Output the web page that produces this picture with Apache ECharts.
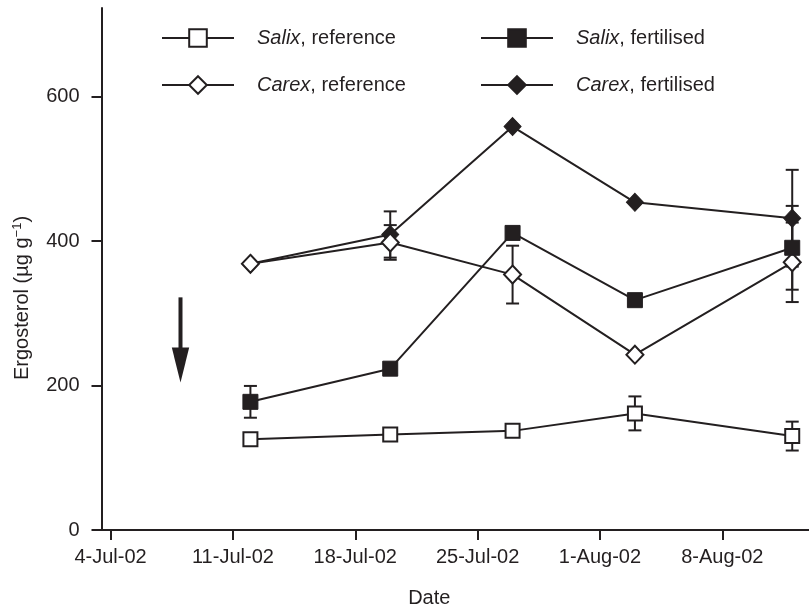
<!DOCTYPE html>
<html>
<head>
<meta charset="utf-8">
<script src="https://cdn.jsdelivr.net/npm/echarts@6/dist/echarts.min.js"></script>
<style>
  html, body { margin: 0; padding: 0; background: #fff; }
  #chart { width: 809px; height: 613px; }
</style>
</head>
<body>
<div id="chart"></div>
<script>
// Sampling dates and ergosterol content (µg g-1) per treatment
const sampleDates = ['2002-07-12', '2002-07-20', '2002-07-27', '2002-08-03', '2002-08-12'];

const salixReference  = [125.7, 132.2, 137.2, 161.4, 130.0];
const salixFertilised = [177.4, 223.3, 411.2, 318.1, 390.6];
const carexReference  = [368.4, 398.0, 353.5, 242.7, 370.5];
const carexFertilised = [368.4, 409.0, 558.4, 453.5, 431.5];

// Standard errors (null where no bar is drawn)
const salixReferenceErr  = [null, null, null, 23.5, 20];
const salixFertilisedErr = [22, null, null, null, 58];
const carexReferenceErr  = [null, 24, 40, null, 55];
const carexFertilisedErr = [null, 32, null, null, 67];

// Axis ticks
const tickDates  = ['2002-07-04', '2002-07-11', '2002-07-18', '2002-07-25', '2002-08-01', '2002-08-08'];
const tickLabels = ['4-Jul-02', '11-Jul-02', '18-Jul-02', '25-Jul-02', '1-Aug-02', '8-Aug-02'];
const yTicks = [0, 200, 400, 600];

// Fertilisation date, marked with an arrow
const arrowDate = '2002-07-08';
const arrowFrom = 322;
const arrowTo = 204;

const INK = '#231f20';
const FONT = '"Liberation Sans", Arial, Helvetica, sans-serif';

function dayOf(s) {
  const [y, m, d] = s.split('-').map(Number);
  return (Date.UTC(y, m - 1, d) - Date.UTC(2002, 6, 4)) / 86400000;
}
const sampleDays = sampleDates.map(dayOf);
const tickDays = tickDates.map(dayOf);

function pairs(values) {
  return values.map((v, i) => [sampleDays[i], v]);
}
function errRows(values, errs) {
  const rows = [];
  errs.forEach((e, i) => { if (e != null) rows.push([sampleDays[i], values[i], e]); });
  return rows;
}

const openStyle = { color: '#fff', borderColor: INK, borderWidth: 2 };
const filledStyle = { color: INK, borderColor: INK, borderWidth: 1 };

function lineSeries(name, values, symbol, size, style, z) {
  return {
    type: 'line', name, data: pairs(values), symbol, symbolSize: size,
    showAllSymbol: true, itemStyle: style,
    lineStyle: { color: INK, width: 2 },
    emphasis: { disabled: true }, z, animation: false
  };
}

function errorSeries(values, errs) {
  return {
    type: 'custom', data: errRows(values, errs), z: 1, silent: true, animation: false,
    renderItem(params, api) {
      const x = api.value(0), y = api.value(1), e = api.value(2);
      const top = api.coord([x, y + e]);
      const bot = api.coord([x, y - e]);
      const hw = 6.5;
      const st = { stroke: INK, lineWidth: 2 };
      return {
        type: 'group',
        children: [
          { type: 'line', shape: { x1: top[0], y1: top[1], x2: bot[0], y2: bot[1] }, style: st },
          { type: 'line', shape: { x1: top[0] - hw, y1: top[1], x2: top[0] + hw, y2: top[1] }, style: st },
          { type: 'line', shape: { x1: bot[0] - hw, y1: bot[1], x2: bot[0] + hw, y2: bot[1] }, style: st }
        ]
      };
    }
  };
}

const legendText = {
  fontSize: 20, fontFamily: FONT, color: INK, lineHeight: 20, padding: [0, 0, 0, 18],
  rich: {
    i: { fontSize: 20, fontFamily: FONT, color: INK, fontStyle: 'italic' },
    n: { fontSize: 20, fontFamily: FONT, color: INK }
  }
};
function legendFormat(name) {
  const k = name.indexOf(',');
  return '{i|' + name.slice(0, k) + '}{n|' + name.slice(k) + '}';
}
function legendAt(left, names) {
  return {
    orient: 'vertical', left, top: 28, itemGap: 27, itemWidth: 72, itemHeight: 22,
    selectedMode: false, data: names, formatter: legendFormat, textStyle: legendText,
    padding: 0
  };
}

const chart = echarts.init(document.getElementById('chart'), null, { renderer: 'canvas' });

chart.setOption({
  animation: false,
  backgroundColor: '#fff',
  grid: { left: 101.5, right: 0, top: 8, bottom: 82, containLabel: false },
  legend: [
    legendAt(161, ['Salix, reference', 'Carex, reference']),
    legendAt(480, ['Salix, fertilised', 'Carex, fertilised'])
  ],
  xAxis: {
    type: 'value', min: -0.52, max: 39.96,
    name: 'Date', nameLocation: 'middle', nameGap: 58,
    nameTextStyle: { fontSize: 20, fontFamily: FONT, color: INK, padding: [0, 52, 0, 0] },
    axisLine: { onZero: false, lineStyle: { color: INK, width: 2 } },
    axisTick: { length: 10, lineStyle: { color: INK, width: 2 }, customValues: tickDays },
    axisLabel: {
      customValues: tickDays, margin: 17, fontSize: 20, fontFamily: FONT, color: INK,
      formatter: v => { const i = tickDays.findIndex(t => Math.abs(t - v) < 1e-6); return i >= 0 ? tickLabels[i] : ''; }
    },
    splitLine: { show: false }
  },
  yAxis: {
    type: 'value', min: 0, max: 722.5,
    axisLine: { onZero: false, lineStyle: { color: INK, width: 2 } },
    axisTick: { length: 10, lineStyle: { color: INK, width: 2 }, customValues: yTicks },
    axisLabel: { customValues: yTicks, margin: 22, fontSize: 20, fontFamily: FONT, color: INK },
    splitLine: { show: false }
  },
  series: [
    errorSeries(carexFertilised, carexFertilisedErr),
    errorSeries(carexReference, carexReferenceErr),
    errorSeries(salixFertilised, salixFertilisedErr),
    errorSeries(salixReference, salixReferenceErr),
    lineSeries('Carex, fertilised', carexFertilised, 'diamond', [17, 18], filledStyle, 3),
    lineSeries('Carex, reference', carexReference, 'diamond', [17, 18], openStyle, 4),
    lineSeries('Salix, fertilised', salixFertilised, 'rect', 15, filledStyle, 5),
    lineSeries('Salix, reference', salixReference, 'rect', 14, openStyle, 6)
  ]
});

// Arrow and rotated y-axis title, placed through the grid's coordinate system
const ad = dayOf(arrowDate);
const pFrom = chart.convertToPixel({ gridIndex: 0 }, [ad, arrowFrom]);
const pTo = chart.convertToPixel({ gridIndex: 0 }, [ad, arrowTo]);
const headLen = 35, headHalf = 8.7;

chart.setOption({
  graphic: [
    {
      type: 'line', silent: true,
      shape: { x1: pFrom[0], y1: pFrom[1], x2: pTo[0], y2: pTo[1] - headLen + 2 },
      style: { stroke: INK, lineWidth: 4 }
    },
    {
      type: 'polygon', silent: true,
      shape: { points: [[pTo[0] - headHalf, pTo[1] - headLen], [pTo[0] + headHalf, pTo[1] - headLen], [pTo[0], pTo[1]]] },
      style: { fill: INK }
    },
    {
      type: 'text', silent: true, x: 22.5, y: 298, rotation: Math.PI / 2,
      style: {
        text: '{a|Ergosterol (µg g}{b|−1}{a|)}',
        align: 'center', verticalAlign: 'middle', fill: INK,
        rich: {
          a: { fontSize: 20, fontFamily: FONT, fill: INK, lineHeight: 24 },
          b: { fontSize: 13, fontFamily: FONT, fill: INK, lineHeight: 14, verticalAlign: 'top' }
        }
      }
    }
  ]
});
</script>
</body>
</html>
